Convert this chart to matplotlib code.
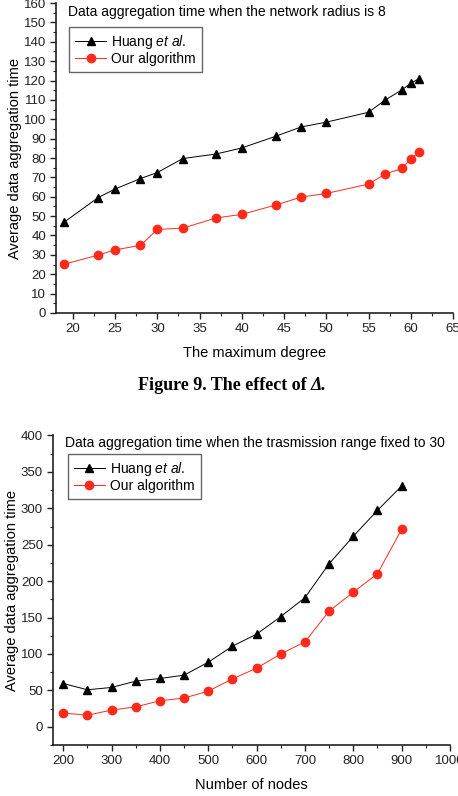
import matplotlib
matplotlib.use("Agg")
import matplotlib.pyplot as plt
from matplotlib.ticker import MultipleLocator

plt.rcParams['font.family'] = ['Liberation Sans', 'DejaVu Sans']
plt.rcParams['mathtext.fontset'] = 'custom'
plt.rcParams['mathtext.rm'] = 'Liberation Sans'
plt.rcParams['mathtext.it'] = 'Liberation Sans:italic'

# Figure 9 (top): effect of the maximum degree
degree = [19, 23, 25, 28, 30, 33, 37, 40, 44, 47, 50, 55, 57, 59, 60, 61]
huang_deg = [47, 59.6, 64, 69.4, 72.5, 79.7, 82.1, 85.2, 91.2, 96, 98.5, 103.6, 110, 115.3, 118.6, 121]
ours_deg = [25.2, 29.9, 32.6, 34.9, 43.1, 43.8, 49.1, 50.9, 55.7, 59.8, 61.7, 66.5, 71.8, 74.6, 79.7, 83]

# bottom: effect of the number of nodes
nodes = [200, 250, 300, 350, 400, 450, 500, 550, 600, 650, 700, 750, 800, 850, 900]
huang_nodes = [59.4, 50.8, 54, 62.7, 66.3, 70.9, 88.7, 110.7, 127.2, 151.3, 177.4, 224, 261.6, 297.2, 330.6]
ours_nodes = [18.8, 16, 22.9, 27.4, 35.7, 39.4, 49, 65.8, 80.5, 100.1, 116.6, 158.9, 184.8, 210.3, 271.2]

HUANG_LABEL = r'Huang $\mathit{et\ al.}$'
OURS_LABEL = 'Our algorithm'
RED = '#ff2a1a'

fig = plt.figure(figsize=(4.58, 7.96), dpi=100)
ax1 = fig.add_axes([0.1223, 0.6068, 0.8667, 0.3894])
ax2 = fig.add_axes([0.115, 0.0641, 0.8675, 0.3888])


def style_axes(ax):
    for s in ['top', 'right']:
        ax.spines[s].set_visible(False)
    for s in ['left', 'bottom']:
        ax.spines[s].set_linewidth(1.2)
        ax.spines[s].set_color('#222222')
    ax.tick_params(which='major', direction='out', length=4.5, width=1, labelsize=9.5,
                   colors='#222222', pad=2.5)
    ax.tick_params(which='minor', direction='out', length=2.5, width=0.8, colors='#222222')


def draw(ax, x, h, o, title, title_y, leg_xy):
    ax.plot(x, h, '-^', color='black', lw=0.7, ms=6, label=HUANG_LABEL)
    ax.plot(x, o, '-o', color=RED, lw=0.7, ms=6, label=OURS_LABEL)
    ax.text(0.03, title_y, title, transform=ax.transAxes, fontsize=10, va='center', ha='left')
    leg = ax.legend(loc='upper left', bbox_to_anchor=leg_xy, fontsize=10, fancybox=False,
                    edgecolor='#666666', framealpha=1, handlelength=2.2, handletextpad=0.4,
                    borderpad=0.45, labelspacing=0.05, borderaxespad=0)
    leg.get_frame().set_linewidth(1)
    ax.set_ylabel('Average data aggregation time', fontsize=10.5, labelpad=1.5)
    style_axes(ax)


draw(ax1, degree, huang_deg, ours_deg,
     'Data aggregation time when the network radius is 8', 0.971, (0.033, 0.923))
ax1.set_xlim(18, 65)
ax1.set_ylim(0, 160)
ax1.xaxis.set_major_locator(MultipleLocator(5))
ax1.xaxis.set_minor_locator(MultipleLocator(2.5))
ax1.yaxis.set_major_locator(MultipleLocator(10))
ax1.yaxis.set_minor_locator(MultipleLocator(5))
ax1.set_xlabel('The maximum degree', fontsize=10.5, labelpad=8)

draw(ax2, nodes, huang_nodes, ours_nodes,
     'Data aggregation time when the trasmission range fixed to 30', 0.976, (0.038, 0.94))
ax2.set_xlim(178, 1000)
ax2.set_ylim(-25, 400)
ax2.xaxis.set_major_locator(MultipleLocator(100))
ax2.xaxis.set_minor_locator(MultipleLocator(50))
ax2.yaxis.set_major_locator(MultipleLocator(50))
ax2.yaxis.set_minor_locator(MultipleLocator(25))
ax2.set_xlabel('Number of nodes', fontsize=10.5, labelpad=8)

# caption between the two charts
cap = fig.text(0.49, 1 - 385 / 796, 'Figure 9. The effect of ', fontsize=13,
               family='Liberation Serif', weight='bold', ha='center', va='center')
ax1.annotate('\u0394.', xy=(1, 0), xycoords=cap, va='bottom', ha='left', fontsize=13,
             family='Liberation Serif', weight='bold', style='italic', annotation_clip=False)

fig.savefig('out.png', dpi=100)
